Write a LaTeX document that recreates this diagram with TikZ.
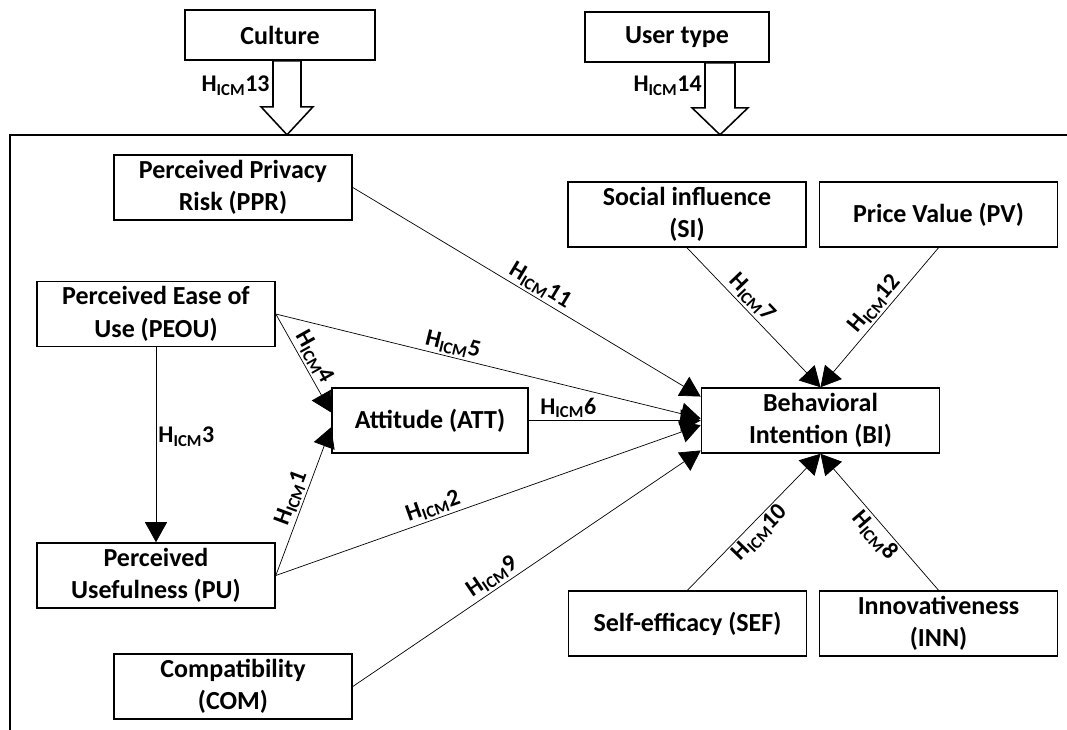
\documentclass[tikz,border=0pt]{standalone}
\usepackage{fontspec}
\setmainfont{Carlito}
\usetikzlibrary{arrows.meta,calc}

\newcommand{\hicm}[1]{H\textsubscript{ICM}#1}

\begin{document}
\begin{tikzpicture}[x=0.025cm, y=-0.025cm,
  box/.style={draw, line width=1.1pt, align=center, inner sep=1pt,
    font=\bfseries\fontsize{18.5}{23}\selectfont,
    minimum width=5.95cm, minimum height=1.625cm},
  hyp/.style={-{Triangle[length=0.5cm, width=0.55cm]}, line width=0.5pt},
  lab/.style={font=\bfseries\fontsize{17}{18}\selectfont, inner sep=1.5pt},
  hollow/.style={draw, line width=1.1pt}]
  \useasboundingbox (0,0) rectangle (1067,730);

  % frame of the model
  \draw[line width=1.4pt] (10,730) -- (10,135) -- (1067,135);

  % moderators
  \node[box, minimum width=4.75cm, minimum height=1.25cm] (cult) at (280,35) {Culture};
  \node[box, minimum width=4.6cm, minimum height=1.25cm] (utype) at (677,37) {User type};
  \draw[hollow] ($(cult.south)+(-7,0)$) -- ++(0,46) -- ++(-12,0) -- ++(26,28)
    -- ++(26,-28) -- ++(-12,0) -- ++(0,-46) -- cycle;
  \draw[hollow] ($(utype.south)+(28,0)$) -- ++(0,45) -- ++(-13,0) -- ++(28,27)
    -- ++(28,-27) -- ++(-13,0) -- ++(0,-45) -- cycle;
  \node[lab, left] (h13) at ($(cult.south)+(-8,25)$) {\hicm{13}};
  \node[lab, left] (h14) at ($(utype.south)+(27,23)$) {\hicm{14}};

  % constructs
  \node[box] (ppr) at (233,187.5) {Perceived Privacy\\Risk (PPR)};
  \node[box] (peou) at (156,314) {Perceived Ease of\\Use (PEOU)};
  \node[box, minimum width=4.9cm] (att) at (430,420.5) {Attitude (ATT)};
  \node[box] (pu) at (156,575.5) {Perceived\\Usefulness (PU)};
  \node[box] (com) at (233,686.5) {Compatibility\\(COM)};
  \node[box] (si) at (687,214.5) {Social influence\\(SI)};
  \node[box] (pv) at (938.5,214.5) {Price Value (PV)};
  \node[box] (bi) at (820.5,420.5) {Behavioral\\Intention (BI)};
  \node[box] (sef) at (687.5,623.5) {Self-efficacy (SEF)};
  \node[box] (inn) at (938.5,623.5) {Innovativeness\\(INN)};

  % hypotheses
  \draw[hyp] (pu.east) -- node[lab, above, sloped, pos=0.49] (h1) {\hicm{1}} ($(att.north west)!0.6!(att.south west)$);
  \draw[hyp] (pu.east) -- node[lab, above, sloped, pos=0.38] (h2) {\hicm{2}} ($(bi.north west)!0.57!(bi.south west)$);
  \draw[hyp] (peou.south) -- node[lab, right, pos=0.46] (h3) {\hicm{3}} (pu.north);
  \draw[hyp] (peou.east) -- node[lab, above, sloped, pos=0.5] (h4) {\hicm{4}} ($(att.north west)!0.38!(att.south west)$);
  \draw[hyp] (peou.east) -- node[lab, above, sloped, pos=0.41] (h5) {\hicm{5}} ($(bi.north west)!0.47!(bi.south west)$);
  \draw[hyp] (att.east) -- node[lab, above, pos=0.23] (h6) {\hicm{6}} (bi.west);
  \draw[hyp] (si.south) -- node[lab, above, sloped, pos=0.42] (h7) {\hicm{7}} (bi.north);
  \draw[hyp] (inn.north) -- node[lab, below, sloped, pos=0.46] (h8) {\hicm{8}} (bi.south);
  \draw[hyp] (com.east) -- node[lab, above, sloped, pos=0.42] (h9) {\hicm{9}} ($(bi.north west)!0.95!(bi.south west)$);
  \draw[hyp] (sef.north) -- node[lab, below, sloped, pos=0.48] (h10) {\hicm{10}} (bi.south);
  \draw[hyp] (ppr.east) -- node[lab, above, sloped, pos=0.52] (h11) {\hicm{11}} ($(bi.north west)!0.14!(bi.south west)$);
  \draw[hyp] (pv.south) -- node[lab, above, sloped, pos=0.46] (h12) {\hicm{12}} (bi.north);
\end{tikzpicture}
\end{document}
